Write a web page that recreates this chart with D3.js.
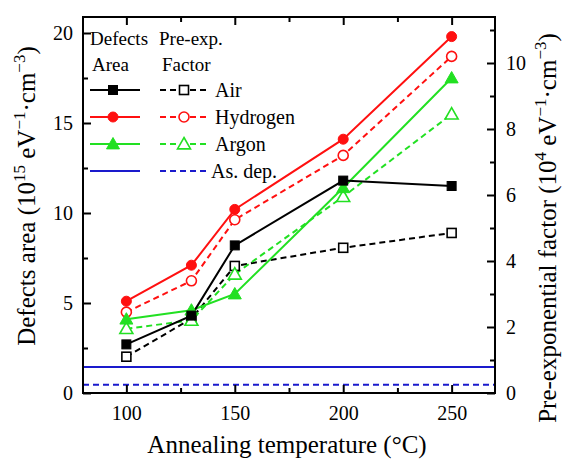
<!DOCTYPE html>
<html><head><meta charset="utf-8">
<script src="https://cdn.jsdelivr.net/npm/d3@7"></script>
<style>body{margin:0;background:#fff}svg{display:block}svg text{font-family:"Liberation Serif","Times New Roman",Times,"DejaVu Serif",serif}</style>
</head><body>
<svg id="c" width="563" height="460"></svg>
<script>
const temps = [100, 130, 150, 200, 250];
const areaAir = [2.7, 4.3, 8.2, 11.8, 11.5];
const areaHydrogen = [5.1, 7.1, 10.2, 14.1, 19.8];
const areaArgon = [4.1, 4.6, 5.5, 11.4, 17.5];
const preAir = [1.1, 2.25, 3.85, 4.4, 4.85];
const preHydrogen = [2.45, 3.4, 5.25, 7.2, 10.2];
const preArgon = [1.95, 2.2, 3.6, 5.95, 8.45];
const asDepArea = 1.45;
const asDepPre = 0.25;
const xTicks = [100, 150, 200, 250];
const yLeftTicks = [0, 5, 10, 15, 20];
const yRightTicks = [0, 2, 4, 6, 8, 10];
const legendNames = ["Air", "Hydrogen", "Argon", "As. dep."];

const svg = d3.select("#c");
const L = 83, R = 495, T = 17, B = 393;
const x = d3.scaleLinear().domain([80, 270]).range([L, R]);
const yL = d3.scaleLinear().domain([0, (B - T) / 18]).range([B, T]);
const yR = d3.scaleLinear().domain([0, (B - T) / 33]).range([B, T]);

const colors = {Air: "#000000", Hydrogen: "#ff1010", Argon: "#22e022", As: "#1a1acc"};
const dash = "6,4";

svg.append("line").attr("x1", L).attr("x2", R).attr("y1", yL(asDepArea)).attr("y2", yL(asDepArea))
  .attr("stroke", colors.As).attr("stroke-width", 2);
svg.append("line").attr("x1", L).attr("x2", R).attr("y1", yR(asDepPre)).attr("y2", yR(asDepPre))
  .attr("stroke", colors.As).attr("stroke-width", 2).attr("stroke-dasharray", dash);

function marker(g, shape, cx, cy, color, filled) {
  const fill = filled ? color : "#fff";
  if (shape === "square") {
    g.append("rect").attr("x", cx - 4.5).attr("y", cy - 4.5).attr("width", 9).attr("height", 9)
      .attr("fill", fill).attr("stroke", color).attr("stroke-width", filled ? 1 : 1.6);
  } else if (shape === "circle") {
    g.append("circle").attr("cx", cx).attr("cy", cy).attr("r", 5)
      .attr("fill", fill).attr("stroke", color).attr("stroke-width", filled ? 1 : 1.6);
  } else {
    const s = 6.5;
    g.append("path").attr("d", `M${cx},${cy - s}L${cx + s},${cy + s * 0.75}L${cx - s},${cy + s * 0.75}Z`)
      .attr("fill", fill).attr("stroke", color).attr("stroke-width", filled ? 1 : 1.6);
  }
}

const series = [
  {vals: preAir, y: yR, c: colors.Air, shape: "square", filled: false, dashed: true},
  {vals: preArgon, y: yR, c: colors.Argon, shape: "tri", filled: false, dashed: true},
  {vals: preHydrogen, y: yR, c: colors.Hydrogen, shape: "circle", filled: false, dashed: true},
  {vals: areaArgon, y: yL, c: colors.Argon, shape: "tri", filled: true, dashed: false},
  {vals: areaAir, y: yL, c: colors.Air, shape: "square", filled: true, dashed: false},
  {vals: areaHydrogen, y: yL, c: colors.Hydrogen, shape: "circle", filled: true, dashed: false},
];
series.forEach(s => {
  const line = d3.line().x((d, i) => x(temps[i])).y(d => s.y(d));
  svg.append("path").attr("d", line(s.vals)).attr("fill", "none").attr("stroke", s.c)
    .attr("stroke-width", 2).attr("stroke-dasharray", s.dashed ? dash : null);
});
series.forEach(s => {
  const g = svg.append("g");
  s.vals.forEach((v, i) => marker(g, s.shape, x(temps[i]), s.y(v), s.c, s.filled));
});

const fs = "20px";
const axB = svg.append("g").attr("transform", `translate(0,${B})`)
  .call(d3.axisBottom(x).tickValues(xTicks).tickSizeInner(-8).tickSizeOuter(0).tickPadding(13));
axB.append("g").call(d3.axisBottom(x).tickValues([125, 175, 225]).tickSizeInner(-5).tickSizeOuter(0).tickFormat(""));
const axT = svg.append("g").attr("transform", `translate(0,${T})`)
  .call(d3.axisTop(x).tickValues(xTicks).tickSizeInner(-8).tickSizeOuter(0).tickFormat(""));
axT.append("g").call(d3.axisTop(x).tickValues([125, 175, 225]).tickSizeInner(-5).tickSizeOuter(0).tickFormat(""));
const axL = svg.append("g").attr("transform", `translate(${L},0)`)
  .call(d3.axisLeft(yL).tickValues(yLeftTicks).tickSizeInner(-8).tickSizeOuter(0).tickPadding(10));
axL.append("g").call(d3.axisLeft(yL).tickValues([2.5, 7.5, 12.5, 17.5]).tickSizeInner(-5).tickSizeOuter(0).tickFormat(""));
const axR = svg.append("g").attr("transform", `translate(${R},0)`)
  .call(d3.axisRight(yR).tickValues(yRightTicks).tickSizeInner(-8).tickSizeOuter(0).tickPadding(11));
axR.append("g").call(d3.axisRight(yR).tickValues([1, 3, 5, 7, 9, 11]).tickSizeInner(-5).tickSizeOuter(0).tickFormat(""));
[axB, axT, axL, axR].forEach(a => {
  a.attr("font-family", null);
  a.selectAll("path.domain").remove();
  a.selectAll("line").attr("stroke", "#000").attr("stroke-width", 2);
  a.selectAll("text").attr("font-size", fs).attr("fill", "#000");
});
svg.append("rect").attr("x", L).attr("y", T).attr("width", R - L).attr("height", B - T)
  .attr("fill", "none").attr("stroke", "#000").attr("stroke-width", 2);

svg.append("text").attr("x", 287).attr("y", 453).attr("text-anchor", "middle")
  .attr("font-size", "25px").text("Annealing temperature (°C)");
function sup(t, parts) {
  parts.forEach(p => {
    if (p.s) t.append("tspan").attr("dy", -10).attr("font-size", "17px").text(p.s);
    else t.append("tspan").attr("dy", p.first ? 0 : 10).text(p.t);
  });
}
const lt = svg.append("text").attr("transform", `translate(35,196) rotate(-90)`)
  .attr("text-anchor", "middle").attr("font-size", "25px");
sup(lt, [{t: "Defects area (10", first: true}, {s: "15"}, {t: " eV"}, {s: "−1"}, {t: "·cm"}, {s: "−3"}, {t: ")"}]);
const rt = svg.append("text").attr("transform", `translate(556,228) rotate(-90)`)
  .attr("text-anchor", "middle").attr("font-size", "25px");
sup(rt, [{t: "Pre-exponential factor (10", first: true}, {s: "4"}, {t: " eV"}, {s: "−1"}, {t: "·cm"}, {s: "−3"}, {t: ")"}]);

const lg = svg.append("g");
lg.append("text").attr("x", 90).attr("y", 45).attr("font-size", "19px").text("Defects");
lg.append("text").attr("x", 159).attr("y", 45).attr("font-size", "19px").text("Pre-exp.");
lg.append("text").attr("x", 92).attr("y", 71).attr("font-size", "19px").text("Area");
lg.append("text").attr("x", 162).attr("y", 71).attr("font-size", "19px").text("Factor");
const lgRows = [
  {name: legendNames[0], c: colors.Air, shape: "square"},
  {name: legendNames[1], c: colors.Hydrogen, shape: "circle"},
  {name: legendNames[2], c: colors.Argon, shape: "tri"},
  {name: legendNames[3], c: colors.As, shape: null},
];
lgRows.forEach((r, i) => {
  const yy = 90 + i * 27;
  lg.append("line").attr("x1", 90).attr("x2", 140).attr("y1", yy).attr("y2", yy).attr("stroke", r.c).attr("stroke-width", 2);
  lg.append("line").attr("x1", 160).attr("x2", 206).attr("y1", yy).attr("y2", yy).attr("stroke", r.c).attr("stroke-width", 2).attr("stroke-dasharray", dash);
  if (r.shape) { marker(lg, r.shape, 113, yy, r.c, true); marker(lg, r.shape, 184, yy, r.c, false); }
  lg.append("text").attr("x", i === 3 ? 211 : 215).attr("y", yy + 7).attr("font-size", "20px").text(r.name);
});
</script>
</body></html>
